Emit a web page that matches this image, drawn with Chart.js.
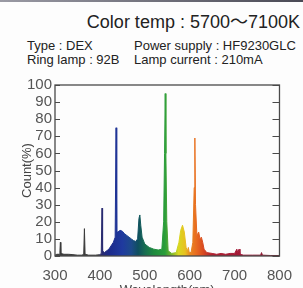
<!DOCTYPE html>
<html>
<head>
<meta charset="utf-8">
<script src="https://cdn.jsdelivr.net/npm/chart.js@4"></script>
<style>
  html, body { margin: 0; padding: 0; background: #fdfdfd; }
  body { width: 303px; height: 288px; overflow: hidden; position: relative;
         font-family: "Liberation Sans", Arial, "Noto Sans CJK JP", sans-serif; color: #222; }
  .topline { position: absolute; left: 0; top: 0; width: 303px; height: 2px;
             background: linear-gradient(to right, #9a9aa4, #4a4a55); }
  .head { position: absolute; white-space: nowrap; font-size: 13px; line-height: 13px; }
  #chartBox { position: absolute; left: 0; top: 0; width: 303px; height: 298px; }
</style>
</head>
<body>
<div class="topline"></div>
<div class="head" style="right:3px; top:13px; font-size:18px; line-height:18px;">Color temp : 5700～7100K</div>
<div class="head" style="left:27px; top:39px;">Type : DEX</div>
<div class="head" style="left:134px; top:39px;">Power supply : HF9230GLC</div>
<div class="head" style="left:27px; top:53px;">Ring lamp : 92B</div>
<div class="head" style="left:134px; top:53px;">Lamp current : 210mA</div>
<div id="chartBox"><canvas id="chart"></canvas></div>
<script>
// spectrum: wavelength (nm) and relative count (%)
const wavelengths = [300, 304, 310, 311, 312, 313, 320, 330, 340, 350, 360, 364, 365.5, 367, 375, 390,
  400, 403, 404.7, 406, 410, 420, 430, 434, 436, 437.5, 440, 445, 450, 455, 460, 465, 470, 475, 480,
  484, 487, 489, 491, 494, 500, 510, 520, 530, 538, 542, 544, 545.5, 547, 549, 552, 560, 570,
  576, 580, 584, 588, 592, 595, 597, 599, 603, 607, 610, 611.5, 613, 616, 620, 623, 626, 629, 632,
  638, 650, 660, 670, 680, 690, 700, 705, 707, 710, 712, 720, 740, 758, 760, 762, 780, 800];
const counts = [0.5, 1, 1, 3, 8, 1.5, 1, 1, 0.8, 0.5, 0.5, 1, 16, 1, 0.5, 0.5,
  0.8, 1.5, 28, 3, 2, 4, 8, 11, 75, 14, 14, 15, 14.5, 13, 12, 11, 10, 9, 8.5,
  10, 22, 24, 18, 11, 7, 5, 4, 3.5, 4, 20, 60, 95, 60, 20, 3, 1.5, 2,
  8, 15, 18, 14, 5, 3, 5, 2, 2, 8, 40, 69, 30, 12, 14, 10, 11, 8, 4,
  2, 1.5, 1, 1.5, 1, 1.5, 1.5, 4, 2, 4, 1, 0.5, 0.5, 0.5, 2, 0.5, 0.3, 0.3];
const xTicks = [300, 400, 500, 600, 700, 800];

// colour of the light along the spectrum
const stopNm = [300, 396, 402, 420, 450, 470, 485, 500, 520, 545, 560, 575, 590, 600, 615, 630, 650, 720, 800];
const stopColors = ['#3a3a3a', '#3a3a3a', '#2c2c6c', '#1c2a8a', '#1f3a9f', '#1d4a8a', '#0f4f5f', '#186c52',
  '#1e8a3e', '#2a9d3a', '#7ab52a', '#d8d820', '#e8c020', '#e88a20', '#e86a20', '#d84a20', '#b02030',
  '#a01838', '#802030'];

function spectrumGradient(chart) {
  const x = chart.scales.x;
  const g = chart.ctx.createLinearGradient(x.left, 0, x.right, 0);
  stopNm.forEach((nm, i) => {
    g.addColorStop((nm - 300) / 500, stopColors[i]);
  });
  return g;
}

// box round the plot with inward tick marks on both sides
const framePlugin = {
  id: 'frame',
  afterDatasetsDraw(chart) {
    const { ctx, chartArea: a, scales: { y } } = chart;
    ctx.save();
    ctx.strokeStyle = '#4a4a4a';
    ctx.lineWidth = 1.3;
    ctx.strokeRect(a.left, a.top, a.right - a.left, a.bottom - a.top);
    ctx.lineWidth = 1;
    y.ticks.forEach(t => {
      const py = Math.round(y.getPixelForValue(t.value)) + 0.5;
      ctx.beginPath();
      ctx.moveTo(a.left, py); ctx.lineTo(a.left + 5, py);
      ctx.moveTo(a.right - 7, py); ctx.lineTo(a.right, py);
      ctx.stroke();
    });
    ctx.restore();
  }
};

new Chart(document.getElementById('chart'), {
  type: 'line',
  data: {
    datasets: [{
      data: wavelengths.map((w, i) => ({ x: w, y: counts[i] })),
      borderColor: ctx => ctx.chart.chartArea ? spectrumGradient(ctx.chart) : '#333',
      backgroundColor: ctx => ctx.chart.chartArea ? spectrumGradient(ctx.chart) : '#333',
      borderWidth: 1,
      fill: 'origin',
      pointRadius: 0,
      tension: 0,
    }],
  },
  options: {
    responsive: true,
    maintainAspectRatio: false,
    animation: false,
    layout: { padding: { top: 85, right: 4, left: 0, bottom: 0 } },
    plugins: { legend: { display: false }, tooltip: { enabled: false } },
    scales: {
      x: {
        type: 'linear',
        min: 300,
        max: 800,
        afterFit: s => { s.height = 42; },
        afterBuildTicks: s => { s.ticks = xTicks.map(v => ({ value: v })); },
        grid: { display: false, drawTicks: false },
        border: { display: false },
        ticks: { color: '#555', font: { size: 15, family: 'Liberation Sans' }, padding: 11,
                 maxRotation: 0, autoSkip: false },
        title: { display: true, text: 'Wavelength(nm)', color: '#444',
                 font: { size: 13, family: 'Liberation Sans' }, padding: 0 },
      },
      y: {
        min: 0,
        max: 100,
        afterFit: s => { s.width = 55; },
        grid: { display: false, drawTicks: false },
        border: { display: false },
        ticks: { stepSize: 10, color: '#555', font: { size: 15, family: 'Liberation Sans' }, padding: 3,
                 autoSkip: false },
        title: { display: true, text: 'Count(%)', color: '#444',
                 font: { size: 13, family: 'Liberation Sans' }, padding: { top: 20, bottom: 0 } },
      },
    },
  },
  plugins: [framePlugin],
});
</script>
</body>
</html>
